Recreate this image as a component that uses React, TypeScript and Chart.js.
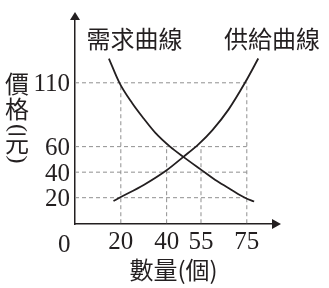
import React, { useEffect, useRef } from "react";
import { Chart, registerables } from "chart.js";

Chart.register(...registerables);

// ---- data ----
const supplyX = [16.8, 20, 30, 40, 47.3, 54, 60, 67, 74.2, 80];
const supplyY = [17.4, 20.5, 30, 41.5, 52, 62, 73, 89, 110, 129];
const demandX = [14.8, 19.4, 25, 30, 35, 41.5, 47.3, 55, 62, 68, 74.2, 78.2];
const demandY = [129, 110, 94, 82, 71, 60, 52, 42, 33, 26.5, 20, 17];

const xTicks = [20, 40, 55, 75];
const yTicks = [20, 40, 60, 110];
const xTickLabels = ["20", "40", "55", "75"];
const yTickLabels = ["20", "40", "60", "110"];
const originLabel = "0";
// dashed guides: vertical guide at each x tick up to this value, horizontal guide at each y tick out to this value
const vGuideTop = [110, 60, 60, 110];
const hGuideEnd = [75, 75, 75, 75];

const demandLabel = "需求曲線";
const supplyLabel = "供給曲線";
const xTitle = "數量(個)";
const yTitleChars = ["價", "格", "(", "元", ")"];

const INK = "#231f20";
const SERIF = '"Liberation Serif", "Times New Roman", serif';
const CJK = '"Noto Sans CJK TC", "Noto Sans CJK SC", sans-serif';

// draw text so that its ink box is centred on (x, y), optionally rotated
function inkText(ctx: CanvasRenderingContext2D, text: string, x: number, y: number, rot = 0) {
  ctx.save();
  ctx.textAlign = "left";
  ctx.textBaseline = "alphabetic";
  const m = ctx.measureText(text);
  const cx = (m.actualBoundingBoxRight - m.actualBoundingBoxLeft) / 2;
  const cy = (m.actualBoundingBoxDescent - m.actualBoundingBoxAscent) / 2;
  ctx.translate(x, y);
  if (rot) ctx.rotate(rot);
  ctx.fillText(text, -cx, -cy);
  ctx.restore();
}

const decorPlugin = {
  id: "decor",
  afterDraw(chart: any) {
    const { ctx, chartArea } = chart;
    const { left, right, top, bottom } = chartArea;
    ctx.save();
    ctx.fillStyle = INK;
    // arrow heads
    ctx.beginPath();
    ctx.moveTo(left - 5, top);
    ctx.lineTo(left + 5, top);
    ctx.lineTo(left, top - 8);
    ctx.closePath();
    ctx.fill();
    ctx.beginPath();
    ctx.moveTo(right, bottom - 5);
    ctx.lineTo(right, bottom + 5);
    ctx.lineTo(right + 9, bottom);
    ctx.closePath();
    ctx.fill();

    // origin label
    ctx.font = `25px ${SERIF}`;
    inkText(ctx, originLabel, 64, 243);

    // curve labels
    ctx.font = `24px ${CJK}`;
    inkText(ctx, demandLabel, 135, 39);
    inkText(ctx, supplyLabel, 272, 39);

    // vertical y title
    const ys = [84, 109, 128.5, 144, 159];
    yTitleChars.forEach((ch, i) => {
      if (ch === "(" || ch === ")") {
        ctx.font = `24px ${SERIF}`;
        inkText(ctx, ch, 17, ys[i], Math.PI / 2);
      } else {
        ctx.font = `24px ${CJK}`;
        inkText(ctx, ch, 17, ys[i]);
      }
    });
    ctx.restore();
  },
};

export default function App() {
  const ref = useRef<HTMLCanvasElement | null>(null);

  useEffect(() => {
    if (!ref.current) return;
    const guide = {
      borderColor: "#8f8f8f",
      borderWidth: 1,
      borderDash: [4, 3],
      pointRadius: 0,
      fill: false,
      order: 2,
    };
    const datasets: any[] = [];
    xTicks.forEach((x, i) => {
      datasets.push({ ...guide, data: [{ x, y: 0 }, { x, y: vGuideTop[i] }] });
    });
    yTicks.forEach((y, i) => {
      datasets.push({ ...guide, data: [{ x: 0, y }, { x: hGuideEnd[i], y }] });
    });
    datasets.push({
      label: "supply",
      data: supplyX.map((x, i) => ({ x, y: supplyY[i] })),
      borderColor: INK,
      borderWidth: 1.8,
      pointRadius: 0,
      cubicInterpolationMode: "monotone",
      fill: false,
      order: 1,
    });
    datasets.push({
      label: "demand",
      data: demandX.map((x, i) => ({ x, y: demandY[i] })),
      borderColor: INK,
      borderWidth: 1.8,
      pointRadius: 0,
      cubicInterpolationMode: "monotone",
      fill: false,
      order: 1,
    });

    const chart = new Chart(ref.current, {
      type: "line",
      data: { datasets },
      options: {
        animation: false,
        responsive: false,
        devicePixelRatio: 1,
        layout: { padding: { left: 0, top: 17, right: 57, bottom: 0 } },
        plugins: { legend: { display: false }, tooltip: { enabled: false } },
        scales: {
          x: {
            type: "linear",
            min: 0,
            max: 86,
            afterBuildTicks: (s: any) => {
              s.ticks = xTicks.map((v) => ({ value: v }));
            },
            afterFit: (s: any) => {
              s.height = 64;
            },
            grid: { display: false, drawTicks: false },
            border: { display: true, color: INK, width: 1.5 },
            ticks: {
              autoSkip: false,
              maxRotation: 0,
              padding: 3,
              color: INK,
              font: { family: SERIF, size: 25 },
              callback: (_v: any, i: number) => xTickLabels[i],
            },
            title: {
              display: true,
              text: xTitle,
              color: INK,
              font: { family: CJK, size: 24 },
              padding: { top: 0, bottom: 4 },
            },
          },
          y: {
            type: "linear",
            min: -0.6,
            max: 159.2,
            afterBuildTicks: (s: any) => {
              s.ticks = yTicks.map((v) => ({ value: v }));
            },
            afterFit: (s: any) => {
              s.width = 75;
            },
            grid: { display: false, drawTicks: false },
            border: { display: true, color: INK, width: 1.5 },
            ticks: {
              autoSkip: false,
              padding: 5,
              labelOffset: 2,
              color: INK,
              font: { family: SERIF, size: 25 },
              callback: (_v: any, i: number) => yTickLabels[i],
            },
          },
        },
      },
      plugins: [decorPlugin],
    } as any);
    return () => chart.destroy();
  }, []);

  return (
    <div style={{ position: "fixed", left: 0, top: 0, width: 329, height: 288, background: "#fff" }}>
      <canvas ref={ref} width={329} height={288} style={{ display: "block", width: 329, height: 288 }} />
    </div>
  );
}
